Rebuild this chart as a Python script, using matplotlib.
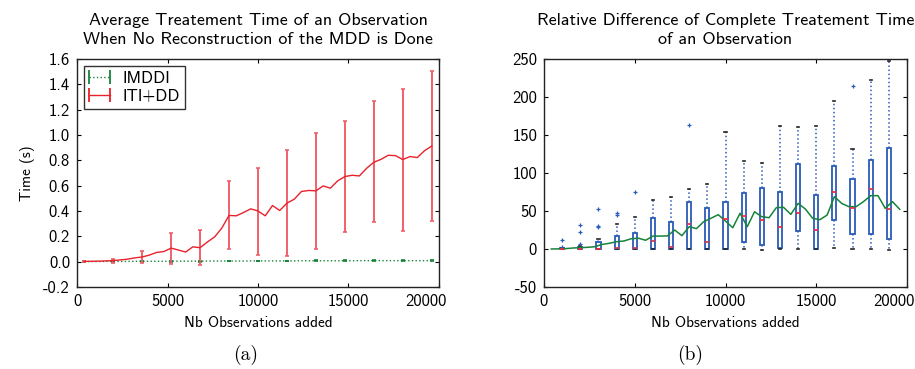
import numpy as np
import matplotlib
matplotlib.use("Agg")
import matplotlib.pyplot as plt
from matplotlib.lines import Line2D
from matplotlib.legend_handler import HandlerLine2D
from matplotlib.transforms import ScaledTranslation

plt.rcParams['font.family'] = ['cmss10', 'DejaVu Sans']
plt.rcParams['axes.unicode_minus'] = False
plt.rcParams['mathtext.fontset'] = 'cm'

# ---------------- Panel (a) data ----------------
x_obs = [400, 800, 1200, 1600, 2000, 2400, 2800, 3200, 3600, 4000,
         4400, 4800, 5200, 5600, 6000, 6400, 6800, 7200, 7600, 8000,
         8400, 8800, 9200, 9600, 10000, 10400, 10800, 11200, 11600, 12000,
         12400, 12800, 13200, 13600, 14000, 14400, 14800, 15200, 15600, 16000,
         16400, 16800, 17200, 17600, 18000, 18400, 18800, 19200, 19600]
iti_dd = [0.002, 0.003, 0.004, 0.006, 0.009, 0.014, 0.020, 0.030, 0.037, 0.052,
          0.073, 0.080, 0.107, 0.092, 0.076, 0.117, 0.110, 0.155, 0.195, 0.265,
          0.365, 0.362, 0.388, 0.417, 0.400, 0.362, 0.443, 0.404, 0.462, 0.493,
          0.554, 0.562, 0.559, 0.598, 0.580, 0.638, 0.672, 0.682, 0.677, 0.737,
          0.785, 0.808, 0.840, 0.837, 0.806, 0.830, 0.822, 0.876, 0.913]
imddi = [0.001, 0.001, 0.001, 0.002, 0.002, 0.002, 0.002, 0.003, 0.003, 0.003,
         0.003, 0.003, 0.004, 0.004, 0.004, 0.004, 0.004, 0.005, 0.005, 0.005,
         0.005, 0.005, 0.005, 0.006, 0.006, 0.006, 0.006, 0.006, 0.006, 0.006,
         0.007, 0.007, 0.007, 0.007, 0.007, 0.007, 0.007, 0.007, 0.008, 0.008,
         0.008, 0.008, 0.008, 0.008, 0.008, 0.008, 0.008, 0.008, 0.008]
# error bars (every 4th point): lower / upper bounds
iti_err_low = [0.000, -0.010, -0.010, -0.018, -0.029, 0.102, 0.050, 0.045, 0.102, 0.231, 0.310, 0.244, 0.323]
iti_err_high = [0.004, 0.021, 0.081, 0.226, 0.247, 0.638, 0.738, 0.879, 1.013, 1.113, 1.268, 1.367, 1.504]
imddi_err = [0.001, 0.002, 0.002, 0.003, 0.003, 0.003, 0.003, 0.003, 0.003, 0.003, 0.003, 0.003, 0.003]

# ---------------- Panel (b) data ----------------
box_pos = [1000, 2000, 3000, 4000, 5000, 6000, 7000, 8000, 9000, 10000,
           11000, 12000, 13000, 14000, 15000, 16000, 17000, 18000, 19000]
box_q1 = [0, 0, 0, 0, 0, 0, 0, 0, 0, 0, 9.2, 5.3, 1.3, 23.7, 0, 37.7, 19.7, 19.7, 13.6]
box_q3 = [1, 3, 9.2, 17, 21, 40.8, 35.5, 61.4, 54, 61.8, 74, 80, 75, 112, 70.6, 109, 92.5, 116.7, 133]
box_med = [0, 0.5, 0, 1.3, 1.3, 10, 3, 33, 9.2, 39, 43, 38, 29.4, 48, 25, 74.6, 54, 79.4, 52.6]
box_whislo = [0, 0, 0, 0, 0, 0, 0, 0, 0, 0, 0, -1, 0, 0, 0, 1.3, 0, 0, -1]
box_whishi = [1.5, 4.5, 13, 33, 42.5, 64.5, 68, 79, 85.5, 153.5, 116, 113.6, 162, 160.5, 161.4, 195, 132, 222, 248]
box_fliers = [[2, 12], [6, 22, 31.6], [29, 30, 52.6], [45, 48], [75], [], [], [162.7], [], [],
              [], [], [], [], [], [], [214.5], [], []]
mean_diff = [0, 0.2, 0.5, 1.3, 1.8, 2.2, 3.0, 6.0, 7.5, 9.6,
             10.5, 13.5, 14.2, 11.5, 17.0, 17.0, 17.2, 25.0, 17.5, 29.4,
             26.8, 36.0, 40.4, 45.2, 36.8, 28.0, 47.0, 29.4, 49.0, 42.5,
             41.2, 54.4, 54.8, 45.6, 60.0, 52.6, 40.4, 38.6, 44.7, 68.9,
             60.0, 55.7, 55.7, 62.3, 70.2, 70.2, 53.5, 62.3, 52.2]

fig = plt.figure(figsize=(9.15, 3.69), dpi=100)
ax1 = fig.add_axes([77/915, 1-287/369, 362/915, 228/369])
ax2 = fig.add_axes([544/915, 1-287/369, 363/915, 228/369])

red = '#e8212b'
green = '#17833a'
TICK_FS = 12
LABEL_FS = 11
TITLE_FS = 13

# ---- panel (a)
x = np.array(x_obs)
n = len(x)
err_idx = np.arange(0, n, 4)
yerr_r = np.zeros((2, n))
yerr_r[0, err_idx] = np.array(iti_dd)[err_idx] - np.array(iti_err_low)
yerr_r[1, err_idx] = np.array(iti_err_high) - np.array(iti_dd)[err_idx]
yerr_g = np.zeros((2, n))
yerr_g[0, err_idx] = imddi_err
yerr_g[1, err_idx] = imddi_err

ax1.errorbar(x, imddi, yerr=yerr_g, errorevery=(0, 4), color=green, ls=':', lw=1.0,
             elinewidth=1.2, capsize=1.5, capthick=1.2)
ax1.errorbar(x, iti_dd, yerr=yerr_r, errorevery=(0, 4), color=red, ls='-', lw=1.0,
             ecolor='#f0606a', elinewidth=1.4, capsize=1.5, capthick=1.2)
ax1.set_xlim(0, 20000)
ax1.set_ylim(-0.2, 1.6)
ax1.set_xticks([0, 5000, 10000, 15000, 20000])
ax1.set_yticks(np.arange(-0.2, 1.61, 0.2))
ax1.set_yticklabels(['%.1f' % v for v in np.arange(-0.2, 1.61, 0.2)])
ax1.set_xlabel('Nb Observations added', fontsize=LABEL_FS, labelpad=5)
ax1.set_ylabel('Time (s)', fontsize=LABEL_FS, labelpad=6)
ax1.set_title('Average Treatement Time of an Observation\nWhen No Reconstruction of the MDD is Done',
              fontsize=TITLE_FS, linespacing=1.3, pad=11)

h_g = Line2D([], [], color=green, ls=':', lw=1.0, marker='|', markersize=10, mew=1.3)
h_r = Line2D([], [], color=red, ls='-', lw=1.0, marker='|', markersize=10, mew=1.3)
leg = ax1.legend([h_g, h_r], ['IMDDI', 'ITI+DD'], loc='upper left', fontsize=12,
                 frameon=True, fancybox=False, borderpad=0.3, labelspacing=0.2,
                 handlelength=1.3, handletextpad=0.7, borderaxespad=0.4,
                 handler_map={Line2D: HandlerLine2D(numpoints=2, marker_pad=0.0)})
leg.get_frame().set_edgecolor('black')
leg.get_frame().set_linewidth(1.0)

# ---- panel (b)
stats = []
for i in range(len(box_pos)):
    stats.append(dict(med=box_med[i], q1=box_q1[i], q3=box_q3[i],
                      whislo=box_whislo[i], whishi=box_whishi[i],
                      fliers=box_fliers[i]))
ax2.bxp(stats, positions=box_pos, widths=230, capwidths=120, patch_artist=True,
        manage_ticks=False,
        boxprops=dict(facecolor='white', edgecolor='#2a5cb8', lw=1.3),
        medianprops=dict(color='#ec3040', lw=1.3),
        whiskerprops=dict(color='#2a5cb8', ls=':', lw=1.1),
        capprops=dict(color='#222222', lw=1.2),
        flierprops=dict(marker='+', markeredgecolor='#2a5cb8', markersize=3, mew=0.9))
ax2.plot(x, mean_diff, color=green, lw=1.1)
ax2.set_xlim(0, 20000)
ax2.set_ylim(-50, 250)
ax2.set_xticks([0, 5000, 10000, 15000, 20000])
ax2.set_yticks([-50, 0, 50, 100, 150, 200, 250])
ax2.set_xlabel('Nb Observations added', fontsize=LABEL_FS, labelpad=5)
ax2.set_title('Relative Difference of Complete Treatement Time\nof an Observation',
              fontsize=TITLE_FS, linespacing=1.3, pad=11)

for ax in (ax1, ax2):
    ax.tick_params(direction='in', top=True, right=True, length=3, width=0.8,
                   labelsize=TICK_FS, pad=5)
    for s in ax.spines.values():
        s.set_linewidth(1.0)
        s.set_color('#222222')
    # keep the last x tick label inside the figure (as in the reference)
    last = ax.get_xticklabels()[-1]
    last.set_ha('right')
    last.set_transform(last.get_transform() + ScaledTranslation(8/100, 0, fig.dpi_scale_trans))

fig.text(246/915, 1-355/369, '(a)', family=['cmr10', 'DejaVu Serif'], fontsize=14,
         ha='center', va='center')
fig.text(690/915, 1-355/369, '(b)', family=['cmr10', 'DejaVu Serif'], fontsize=14,
         ha='center', va='center')

fig.savefig('out.png', dpi=100)
